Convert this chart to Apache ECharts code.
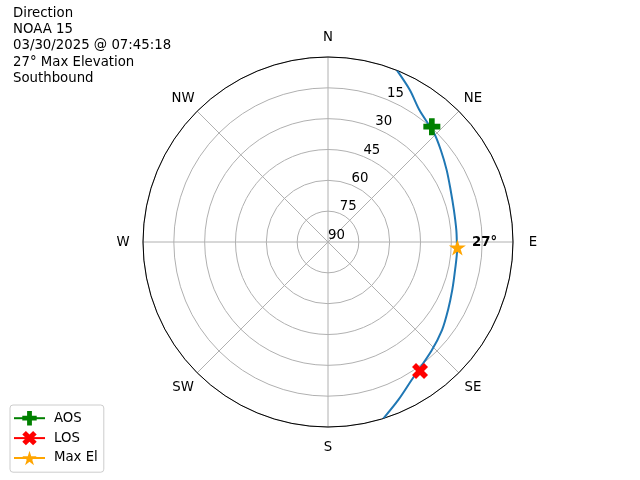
<!DOCTYPE html>
<html>
<head>
<meta charset="utf-8">
<script src="https://cdn.jsdelivr.net/npm/echarts@6/dist/echarts.min.js"></script>
<style>html,body{margin:0;padding:0;background:#fff}#c{width:640px;height:480px}</style>
</head>
<body>
<div id="c"></div>
<script>
// ---- data ----
var titleLines = ['Direction', 'NOAA 15', '03/30/2025 @ 07:45:18', '27\u00b0 Max Elevation', 'Southbound'];
var directionLabels = ['N', 'NE', 'E', 'SE', 'S', 'SW', 'W', 'NW'];
var directionAngles = [0, 45, 90, 135, 180, 225, 270, 315];
var radiusTicks = [15, 30, 45, 60, 75, 90];
// pass track: azimuth (deg, clockwise from N) and elevation (deg)
var passAzimuth   = [21.9, 28.3, 34.7, 44.3, 50.8, 58.8, 67.0, 75.7, 84.6, 90.4, 93.6, 102.5, 111.1, 119.5, 127.7, 136.4, 148.8, 156.0, 162.6];
var passElevation = [0.0,  6.0, 11.9, 16.1, 19.2, 22.5, 25.2, 26.8, 27.3, 27.3, 27.1, 26.7, 25.2, 22.9, 19.9, 17.0, 11.5, 5.9, 0.0];
var aosPoint   = {az: 42.0, el: 14.5};
var losPoint   = {az: 144.5, el: 12.9};
var maxElPoint = {az: 92.4, el: 27.0};

// ---- symbols ----
function pathFrom(pts){ return 'path://M' + pts.map(function(p){return p[0].toFixed(3)+','+p[1].toFixed(3);}).join('L') + 'Z'; }
var plusPts = [[-1,-3],[1,-3],[1,-1],[3,-1],[3,1],[1,1],[1,3],[-1,3],[-1,1],[-3,1],[-3,-1],[-1,-1]];
var c45 = Math.SQRT1_2;
var xPts = plusPts.map(function(p){ return [p[0]*c45 - p[1]*c45, p[0]*c45 + p[1]*c45]; });
var starPts = [];
for (var i = 0; i < 10; i++) {
  var r = (i % 2 === 0) ? 1 : 0.381966;
  var a = -Math.PI/2 + i * Math.PI/5;
  starPts.push([r*Math.cos(a), r*Math.sin(a)]);
}
var plusSym = pathFrom(plusPts), xSym = pathFrom(xPts), starSym = pathFrom(starPts);

var passData = passAzimuth.map(function(az, i){ return [passElevation[i], az]; });
var dirData = directionAngles.map(function(ang, i){ return {name: directionLabels[i], value: [1, ang]}; });

var font = 'DejaVu Sans';
var chart = echarts.init(document.getElementById('c'), null, {renderer: 'canvas'});
chart.setOption({
  animation: false,
  textStyle: {fontFamily: font},
  title: {
    text: titleLines.join('\n'), left: 13, top: 5, padding: 0,
    textStyle: {fontFamily: font, fontSize: 13.3, fontWeight: 'normal', color: '#000', lineHeight: 16.3}
  },
  legend: {
    orient: 'vertical', left: 10, top: 405,
    data: ['AOS', 'LOS', 'Max El'],
    itemWidth: 31, itemHeight: 18, itemGap: 5.5,
    padding: [6, 6, 7, 3],
    borderColor: '#cccccc', borderWidth: 1, borderRadius: 3,
    backgroundColor: 'rgba(255,255,255,0.8)',
    textStyle: {fontFamily: font, fontSize: 13.3, color: '#000', padding: [0, 0, 0, 4]}
  },
  polar: [
    {center: [328, 242], radius: 185},
    {center: [328, 242], radius: 185},
    {center: [328, 243], radius: 205}
  ],
  angleAxis: [
    {
      polarIndex: 0, type: 'value', min: 0, max: 360, interval: 45,
      startAngle: 90, clockwise: true,
      axisLine: {show: true, lineStyle: {color: '#000', width: 1}},
      axisTick: {show: false},
      axisLabel: {show: false},
      splitLine: {show: true, lineStyle: {color: '#b0b0b0', width: 1}}
    },
    {polarIndex: 1, type: 'value', min: 0, max: 360, startAngle: 67.5, show: false},
    {polarIndex: 2, type: 'value', min: 0, max: 360, startAngle: 90, clockwise: true, show: false}
  ],
  radiusAxis: [
    {
      polarIndex: 0, type: 'value', min: 0, max: 90, interval: 15, inverse: true,
      axisLine: {show: false}, axisTick: {show: false}, axisLabel: {show: false},
      splitLine: {show: true, lineStyle: {color: '#b0b0b0', width: 1}}
    },
    {
      polarIndex: 1, type: 'value', min: 0, max: 90, interval: 15, inverse: true,
      axisLine: {show: false}, axisTick: {show: false}, splitLine: {show: false},
      axisLabel: {
        show: true, margin: 0, align: 'left', verticalAlign: 'bottom',
        color: '#000', fontSize: 13.3, fontFamily: font,
        formatter: function(v){ return radiusTicks.indexOf(v) >= 0 ? String(v) : ''; }
      }
    },
    {polarIndex: 2, type: 'value', min: 0, max: 1, show: false}
  ],
  series: [
    {
      name: 'directions', type: 'scatter', coordinateSystem: 'polar', polarIndex: 2,
      data: dirData, symbol: 'circle', symbolSize: 1,
      itemStyle: {color: 'rgba(0,0,0,0)', opacity: 1}, silent: true,
      label: {
        show: true, position: 'inside', formatter: '{b}', opacity: 1,
        color: '#000', fontSize: 13.3, fontFamily: font
      }
    },
    {
      name: 'pass', type: 'line', coordinateSystem: 'polar', polarIndex: 0,
      data: passData, smooth: 0.3, showSymbol: false, symbol: 'none',
      lineStyle: {color: '#1f77b4', width: 2}, itemStyle: {color: '#1f77b4'},
      z: 3, silent: true
    },
    {
      name: 'AOS', type: 'line', coordinateSystem: 'polar', polarIndex: 0,
      data: [[aosPoint.el, aosPoint.az]],
      symbol: plusSym, symbolSize: 17, symbolKeepAspect: true,
      itemStyle: {color: '#008000'}, lineStyle: {color: '#008000', width: 2}, z: 5
    },
    {
      name: 'LOS', type: 'line', coordinateSystem: 'polar', polarIndex: 0,
      data: [[losPoint.el, losPoint.az]],
      symbol: xSym, symbolSize: 16, symbolKeepAspect: true,
      itemStyle: {color: '#ff0000'}, lineStyle: {color: '#ff0000', width: 2}, z: 5
    },
    {
      name: 'Max El', type: 'line', coordinateSystem: 'polar', polarIndex: 0,
      data: [[maxElPoint.el, maxElPoint.az]],
      symbol: starSym, symbolSize: 17, symbolKeepAspect: true,
      itemStyle: {color: '#ffa500'}, lineStyle: {color: '#ffa500', width: 2}, z: 5,
      label: {
        show: true, position: 'right', distance: 6, offset: [0, -5],
        fontFamily: font, fontSize: 13.3, fontWeight: 'bold', color: '#000',
        formatter: function(p){ return Math.round(p.value[0]) + '\u00b0'; }
      }
    }
  ]
});
</script>
</body>
</html>
